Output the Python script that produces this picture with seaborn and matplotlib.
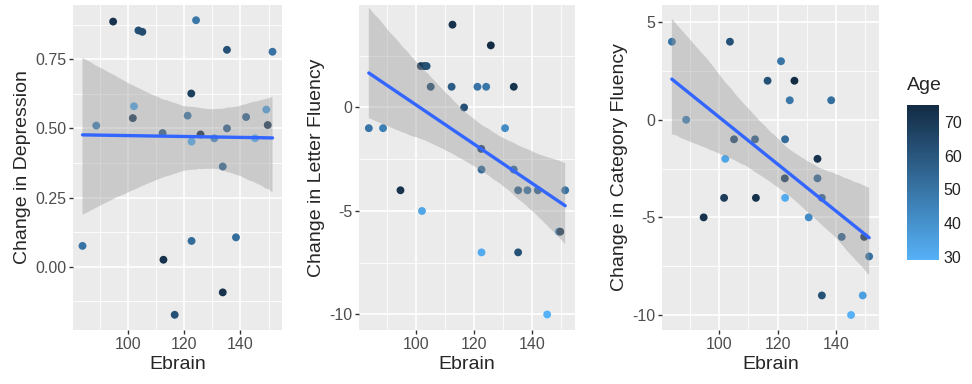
import numpy as np
import pandas as pd
import seaborn as sns
import matplotlib.pyplot as plt
from matplotlib.colors import LinearSegmentedColormap, Normalize
from matplotlib.ticker import MultipleLocator, FormatStrFormatter
from matplotlib.cm import ScalarMappable

nan = np.nan

# one entry per subject
ebrain = [83.8, 88.7, 94.7, 101.7, 102.1, 102.9, 103.7, 105.1, 112.3, 112.6,
          116.6, 121.2, 122.5, 122.6, 122.6, 124.2, 125.8, 130.7, 133.7, 133.7,
          135.2, 135.2, 138.4, 142.0, 145.2, 149.2, 149.7, 151.4]
age = [50, 46, 72, 69, 33, 68, 62, 64, 58, 73,
       62, 50, 68, 31, 53, 49, 75, 42, 72, 55,
       62, 56, 52, 56, 29, 35, 71, 51]
depression = [0.075, 0.51, 0.886, 0.537, 0.58, nan, 0.854, 0.849, 0.483, 0.025,
              -0.174, 0.546, 0.626, 0.452, 0.093, 0.891, 0.478, 0.464, -0.093, 0.362,
              0.784, 0.50, 0.106, 0.541, 0.464, 0.568, 0.512, 0.777]
letter = [-1, -1, -4, 2, -5, 2, 2, 1, 1, 4,
          0, 1, -2, -7, -3, 1, 3, -1, 1, -3,
          -7, -4, -4, -4, -10, -6, -6, -4]
category = [4, 0, -5, -4, -2, nan, 4, -1, -1, -4,
            2, 3, -3, -4, -1, 1, 2, -5, -2, -3,
            -9, -4, 1, -6, -10, -9, -6, -7]

df = pd.DataFrame({"Ebrain": ebrain, "Age": age, "Depression": depression,
                   "Letter": letter, "Category": category})

# column, y label, major step, minor step, tick format, y limits
panels = [("Depression", "Change in Depression", 0.25, 0.125, "%.2f", (-0.229, 0.946)),
          ("Letter", "Change in Letter Fluency", 5, 2.5, "%d", (-10.75, 4.95)),
          ("Category", "Change in Category Fluency", 5, 2.5, "%d", (-10.77, 5.88))]

sns.set_style("darkgrid", {"axes.facecolor": "#EBEBEB", "grid.color": "white",
                           "axes.edgecolor": "#EBEBEB", "xtick.bottom": True,
                           "ytick.left": True})
plt.rcParams["font.family"] = ["Liberation Sans", "DejaVu Sans"]
plt.rcParams["axes.unicode_minus"] = False

cmap = LinearSegmentedColormap.from_list("gg", ["#56B1F7", "#132B43"])
norm = Normalize(min(age), max(age))

fig = plt.figure(figsize=(9.72, 3.84), dpi=100)
lefts = [73, 359, 662]
widths = [209, 216, 217]

for (col, label, major, minor, fmt, ylim), l, w in zip(panels, lefts, widths):
    ax = fig.add_axes([l / 972, 54 / 384, w / 972, 325 / 384])
    sns.scatterplot(data=df, x="Ebrain", y=col, hue="Age", palette=cmap,
                    hue_norm=(min(age), max(age)), s=32, linewidth=0,
                    legend=False, ax=ax, zorder=1)
    sns.regplot(data=df, x="Ebrain", y=col, scatter=False, ax=ax,
                n_boot=2000, seed=3, line_kws={"color": "#3366FF", "lw": 2.4})
    for c in ax.collections[1:]:
        c.set_facecolor("#999999")
        c.set_alpha(0.4)
        c.set_edgecolor("none")
    ax.set_ylim(*ylim)
    ax.xaxis.set_major_locator(MultipleLocator(20))
    ax.xaxis.set_minor_locator(MultipleLocator(10))
    ax.yaxis.set_major_locator(MultipleLocator(major))
    ax.yaxis.set_minor_locator(MultipleLocator(minor))
    ax.yaxis.set_major_formatter(FormatStrFormatter(fmt))
    ax.grid(which="major", color="white", lw=1.2)
    ax.grid(which="minor", color="white", lw=0.6)
    ax.tick_params(which="major", length=3, width=1, color="#333333",
                   labelsize=11.5, labelcolor="#4D4D4D", pad=2)
    ax.tick_params(which="minor", length=0)
    ax.set_xlabel("Ebrain", fontsize=14, labelpad=3)
    ax.set_ylabel(label, fontsize=14, labelpad=3)
    for s in ax.spines.values():
        s.set_visible(False)

cax = fig.add_axes([907 / 972, 124 / 384, 32 / 972, 155 / 384])
cb = fig.colorbar(ScalarMappable(norm=norm, cmap=cmap), cax=cax,
                  ticks=[30, 40, 50, 60, 70])
cb.outline.set_visible(False)
cax.tick_params(direction="in", length=6, width=0.8, color="white",
                left=True, right=True, labelsize=11.5, labelcolor="#222222")
fig.text(907 / 972, 298 / 384, "Age", fontsize=14, va="center", ha="left")

fig.savefig("out.png", dpi=100)
